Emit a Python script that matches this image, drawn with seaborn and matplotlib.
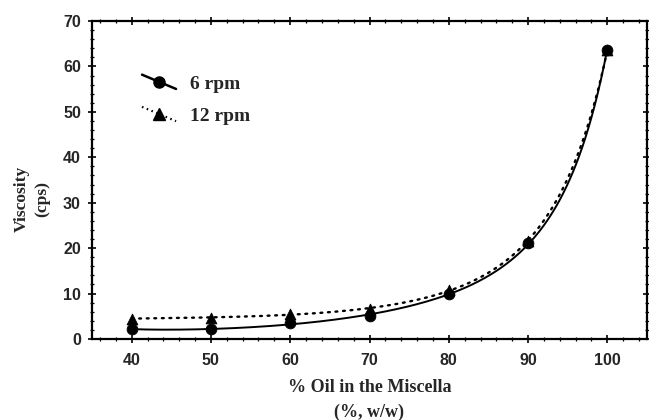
import numpy as np
import pandas as pd
import matplotlib
matplotlib.use("Agg")
import matplotlib.pyplot as plt
from matplotlib.lines import Line2D
from matplotlib.legend_handler import HandlerLine2D
from matplotlib.ticker import MultipleLocator
import seaborn as sns

oil = [40, 50, 60, 70, 80, 90, 100]
visc_6rpm = [2.2, 2.1, 3.5, 5.1, 9.9, 21.1, 63.6]
visc_12rpm = [4.5, 4.7, 5.5, 6.6, 10.8, 21.6, 63.6]
series_names = ["6 rpm", "12 rpm"]
x_label = "% Oil in the Miscella\n(%, w/w)"
y_label = "Viscosity\n(cps)"

df6 = pd.DataFrame({"oil": oil, "visc": visc_6rpm})
df12 = pd.DataFrame({"oil": oil, "visc": visc_12rpm})


def smooth_fit(df, deg=4):
    # least-squares polynomial fit of log(viscosity) -> smooth trend curve
    coef = np.polyfit(df["oil"], np.log(df["visc"]), deg)
    xs = np.linspace(df["oil"].min(), df["oil"].max(), 300)
    return pd.DataFrame({"oil": xs, "visc": np.exp(np.polyval(coef, xs))})


sns.set_style("white")
serif = ["Liberation Serif", "DejaVu Serif"]
sans = ["Liberation Sans", "DejaVu Sans"]

fig = plt.figure(figsize=(6.49, 4.2), dpi=100)
ax = fig.add_axes([92/649, 81/420, 555/649, 318/420])

sns.lineplot(data=smooth_fit(df12), x="oil", y="visc", ax=ax, color="black",
             lw=1.7, ls=(0, (0.8, 2.4)), dash_capstyle="round")
sns.lineplot(data=smooth_fit(df6), x="oil", y="visc", ax=ax, color="black",
             lw=1.4, ls="-")
sns.scatterplot(data=df12, x="oil", y="visc", marker="^", s=60, color="black",
                edgecolor="black", ax=ax, zorder=3)
sns.scatterplot(data=df6, x="oil", y="visc", marker="o", s=60, color="black",
                edgecolor="black", ax=ax, zorder=4)

ax.set_xlim(35, 105)
ax.set_ylim(0, 70)
ax.xaxis.set_major_locator(MultipleLocator(10))
ax.xaxis.set_minor_locator(MultipleLocator(2))
ax.yaxis.set_major_locator(MultipleLocator(10))
ax.yaxis.set_minor_locator(MultipleLocator(2))
ax.set_xticks(oil)
ax.tick_params(which="both", direction="inout", top=True, right=True,
               bottom=True, left=True, color="black")
ax.tick_params(which="major", length=6, width=1.2)
ax.tick_params(which="minor", length=3, width=0.9)
ax.tick_params(axis="x", which="major", pad=7)
ax.tick_params(axis="y", which="major", pad=5)
for s in ax.spines.values():
    s.set_color("black")
    s.set_linewidth(1.6)

for lbl in ax.get_xticklabels() + ax.get_yticklabels():
    lbl.set_fontfamily(sans)
    lbl.set_fontweight("bold")
    lbl.set_fontsize(11.5)

ax.set_xlabel(x_label, fontfamily=serif, fontweight="bold", fontsize=13,
              labelpad=8, linespacing=1.6)
ax.set_ylabel(y_label, fontfamily=serif, fontweight="bold", fontsize=12.6,
              labelpad=12, linespacing=1.3)
ax.yaxis.set_label_coords(-0.076, 0.44)


class DiagonalHandler(HandlerLine2D):
    def create_artists(self, legend, orig_handle, xdescent, ydescent, width,
                       height, fontsize, trans):
        arts = super().create_artists(legend, orig_handle, xdescent, ydescent,
                                      width, height, fontsize, trans)
        for a in arts:
            if isinstance(a, Line2D):
                xd = np.asarray(a.get_xdata(), float)
                yd = np.asarray(a.get_ydata(), float)
                a.set_ydata(yd.mean() - 0.42 * (xd - xd.mean()))
        return arts


handles = [
    Line2D([], [], color="black", lw=1.8, ls="-", marker="o", markersize=8),
    Line2D([], [], color="black", lw=1.6, ls=(0, (0.7, 1.6)), marker="^",
           markersize=8),
]
ax.legend(handles, series_names, loc="upper left",
          bbox_to_anchor=((142 - 92) / 555, (339 - 75) / 318),
          borderpad=0, borderaxespad=0, frameon=False,
          prop=dict(family=serif, weight="bold", size=14),
          handlelength=1.75, handletextpad=0.7, labelspacing=0.75,
          handler_map={Line2D: DiagonalHandler()})

fig.savefig("out.png", dpi=100)
